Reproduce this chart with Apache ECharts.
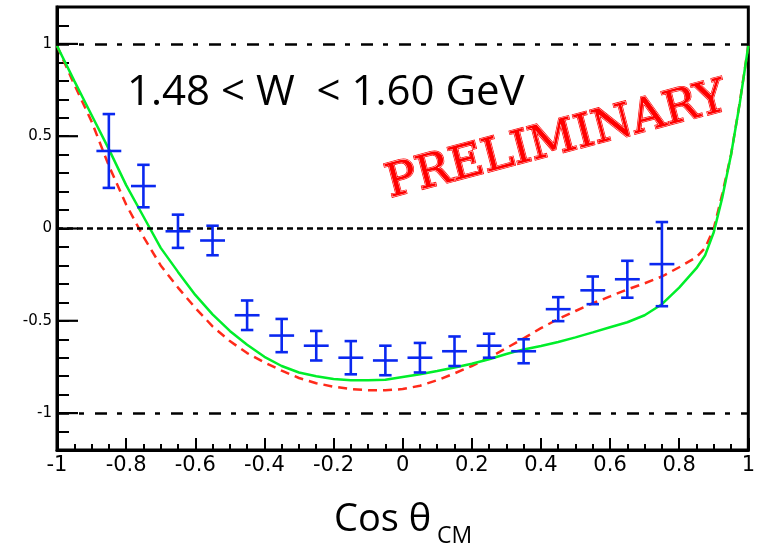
<!DOCTYPE html>
<html>
<head>
<meta charset="utf-8">
<script src="https://cdn.jsdelivr.net/npm/echarts@6/dist/echarts.min.js"></script>
<style>html,body{margin:0;padding:0;background:#fff}#c{width:758px;height:551px}</style>
</head>
<body>
<div id="c"></div>
<script>
// ---- data ----
const binCenters = [-0.85,-0.75,-0.65,-0.55,-0.45,-0.35,-0.25,-0.15,-0.05,0.05,0.15,0.25,0.35,0.45,0.55,0.65,0.75];
const pointValues = [0.42,0.23,-0.015,-0.065,-0.47,-0.58,-0.635,-0.70,-0.715,-0.70,-0.665,-0.635,-0.665,-0.437,-0.335,-0.275,-0.193];
const pointErrors = [0.20,0.115,0.09,0.08,0.08,0.09,0.08,0.09,0.08,0.08,0.08,0.065,0.065,0.065,0.075,0.10,0.228];

const curveX = [-1,-0.95,-0.9,-0.85,-0.8,-0.75,-0.7,-0.65,-0.6,-0.55,-0.5,-0.45,-0.4,-0.35,-0.3,-0.25,-0.2,-0.15,-0.1,-0.05,0,0.05,0.1,0.15,0.2,0.25,0.3,0.35,0.4,0.45,0.5,0.55,0.6,0.65,0.7,0.75,0.8,0.85,0.875,0.9,0.925,0.95,0.975,1];
const greenCurve = [0.99,0.80,0.615,0.43,0.235,0.065,-0.105,-0.235,-0.36,-0.465,-0.555,-0.63,-0.695,-0.745,-0.78,-0.80,-0.815,-0.822,-0.822,-0.82,-0.805,-0.79,-0.772,-0.753,-0.733,-0.708,-0.68,-0.655,-0.637,-0.615,-0.59,-0.563,-0.535,-0.508,-0.47,-0.41,-0.32,-0.215,-0.145,-0.02,0.17,0.40,0.675,0.99];
const redCurve = [0.99,0.78,0.58,0.34,0.13,-0.045,-0.2,-0.32,-0.43,-0.53,-0.61,-0.675,-0.725,-0.77,-0.81,-0.838,-0.857,-0.87,-0.876,-0.876,-0.87,-0.852,-0.822,-0.785,-0.745,-0.70,-0.648,-0.595,-0.54,-0.49,-0.447,-0.405,-0.368,-0.33,-0.297,-0.26,-0.21,-0.155,-0.105,0.0,0.19,0.40,0.68,0.99];

const yMajorTicks = [-1,-0.5,0,0.5,1];
const dashDotLevels = [1,-1];
const dashLevels = [0];
const rangeText = '1.48 < W  < 1.60 GeV';
const stampText = 'PRELIMINARY';

// ---- chart ----
const chart = echarts.init(document.getElementById('c'), null, {renderer:'canvas'});
const pair = (xs, ys) => xs.map((x,i)=>[x, ys[i]]);
const black = '#000';
const isMajor = v => yMajorTicks.some(m => Math.abs(m - v) < 1e-6);

const option = {
  animation: false,
  grid: {left:57, right:3, top:7, bottom:101, show:true, borderColor:black, borderWidth:3, backgroundColor:'transparent'},
  xAxis: {
    type:'value', min:-1, max:1, interval:0.2,
    axisLine:{show:true, onZero:false, lineStyle:{color:black, width:3}},
    axisTick:{show:true, inside:true, length:12, lineStyle:{color:black, width:2}},
    minorTick:{show:true, splitNumber:4, length:6, lineStyle:{color:black, width:2}},
    axisLabel:{color:black, fontSize:21, fontFamily:'DejaVu Sans', margin:5, showMinLabel:true, showMaxLabel:true},
    splitLine:{show:false}
  },
  yAxis: {
    type:'value', min:-1.2, max:1.2, interval:0.1, position:'left',
    axisLine:{show:true, onZero:false, lineStyle:{color:black, width:3}},
    axisTick:{show:true, inside:true, length:12, lineStyle:{color:black, width:2}},
    axisLabel:{show:true, color:black, fontSize:15, fontFamily:'DejaVu Sans', margin:5,
      showMinLabel:false, showMaxLabel:false,
      formatter: v => isMajor(v) ? String(Math.round(v*2)/2) : ''},
    splitLine:{show:false}
  },
  series: [
    {
      type:'line', data: pair(curveX, redCurve), showSymbol:false, symbol:'none',
      lineStyle:{color:'#ff2a1a', width:2.5, type:[9,6]}, z:3,
      markLine:{
        silent:true, symbol:'none', animation:false, label:{show:false},
        data: dashDotLevels.map(v=>({yAxis:v, lineStyle:{color:black, width:2.5, type:[12,10,5,11]}}))
              .concat(dashLevels.map(v=>({yAxis:v, lineStyle:{color:black, width:2.5, type:[6,4]}})))
      }
    },
    {
      type:'line', data: pair(curveX, greenCurve), showSymbol:false, symbol:'none',
      lineStyle:{color:'#00ee2a', width:2.5}, z:4
    },
    {
      // major ticks on the y axis (longer), positioned through the axis scale
      type:'custom', z:6, silent:true,
      data: yMajorTicks.map(v=>[-1, v]),
      encode:{x:0, y:1},
      clip:false,
      renderItem: function(params, api){
        const p = api.coord([api.value(0), api.value(1)]);
        return {type:'line', shape:{x1:p[0], y1:p[1], x2:p[0]+21, y2:p[1]}, style:{stroke:black, lineWidth:2.2}};
      }
    },
    {
      type:'custom', z:5,
      data: binCenters.map((x,i)=>[x, pointValues[i], pointErrors[i]]),
      encode:{x:0, y:1},
      renderItem: function(params, api){
        const x = api.value(0), y = api.value(1), e = api.value(2);
        const c = api.coord([x,y]);
        const t = api.coord([x,y+e]);
        const b = api.coord([x,y-e]);
        const hw = api.size([0.036,0])[0];
        const cw = api.size([0.018,0])[0];
        const st = {stroke:'#0a28f0', lineWidth:2.6};
        return {type:'group', children:[
          {type:'line', shape:{x1:c[0], y1:t[1], x2:c[0], y2:b[1]}, style:st},
          {type:'line', shape:{x1:c[0]-cw, y1:t[1], x2:c[0]+cw, y2:t[1]}, style:st},
          {type:'line', shape:{x1:c[0]-cw, y1:b[1], x2:c[0]+cw, y2:b[1]}, style:st},
          {type:'line', shape:{x1:c[0]-hw, y1:c[1], x2:c[0]+hw, y2:c[1]}, style:st}
        ]};
      }
    }
  ],
  graphic: [
    {type:'text', left:127, top:72, z:10, style:{text:rangeText, fill:'#000', font:'42px "Open Sans"'}},
    {type:'text', x:393, y:208, rotation:0.255, z:10,
      style:{text:stampText, fill:'#ff0000', stroke:'#ff0000', lineWidth:2.2, font:'46px "DejaVu Serif"', verticalAlign:'bottom', align:'left'}},
    {type:'text', x:393, y:208, rotation:0.255, z:11,
      style:{text:stampText, fill:'#ff0000', stroke:'#ffffff', lineWidth:0.7, font:'46px "DejaVu Serif"', verticalAlign:'bottom', align:'left'}},
    {type:'text', left:334, top:501, z:10, style:{text:'Cos θ', fill:'#000', font:'38px "Open Sans"'}},
    {type:'text', left:437, top:525, z:10, style:{text:'CM', fill:'#000', font:'23px "Open Sans"'}}
  ]
};
chart.setOption(option);
</script>
</body>
</html>
